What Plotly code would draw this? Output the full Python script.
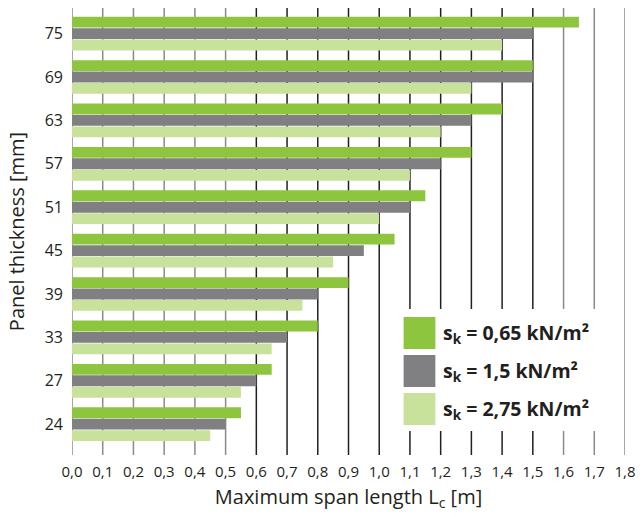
import plotly.graph_objects as go

# Panel thickness categories (bottom to top)
thickness = ["24", "27", "33", "39", "45", "51", "57", "63", "69", "75"]

# Maximum span length [m] per snow load
span_065 = [0.55, 0.65, 0.80, 0.90, 1.05, 1.15, 1.30, 1.40, 1.50, 1.65]
span_150 = [0.50, 0.60, 0.70, 0.80, 0.95, 1.10, 1.20, 1.30, 1.50, 1.50]
span_275 = [0.45, 0.55, 0.65, 0.75, 0.85, 1.00, 1.10, 1.20, 1.30, 1.40]

series_labels = ["s<sub>k</sub> = 0,65 kN/m²", "s<sub>k</sub> = 1,5 kN/m²", "s<sub>k</sub> = 2,75 kN/m²"]
series_colors = ["#8dc53e", "#808083", "#c8e29c"]
x_ticks = [i / 10 for i in range(19)]

FONT = "Open Sans"
TEXT = "#231f20"

fig = go.Figure()
# traces added bottom-first so the lightest load sits on top of each group
for vals, col, name in reversed(list(zip([span_065, span_150, span_275], series_colors, series_labels))):
    fig.add_trace(go.Bar(
        y=thickness, x=vals, orientation="h", name=name,
        marker=dict(color=col, line=dict(width=0)),
        showlegend=False,
    ))

# Plot-area geometry in pixels (used to place the custom legend)
W, H = 644, 517
L, R, T, B = 72, 15, 8, 62
pw, ph = W - L - R, H - T - B

def px_x(px):
    return (px - L) / pw

def px_y(py):
    return (H - B - py) / ph

shapes = []
# vertical grid lines: grey at the outer ranges, dark in the middle
for v in x_ticks:
    col = TEXT if 0.55 < v < 1.55 else "#8a8a8a"
    shapes.append(dict(type="line", xref="x", yref="paper", x0=v, x1=v, y0=0, y1=1,
                       layer="below", line=dict(color=col, width=1.5)))

# white panel behind the legend
shapes.append(dict(type="rect", xref="paper", yref="paper", layer="above",
                   x0=px_x(394), x1=px_x(616), y0=px_y(431), y1=px_y(309),
                   fillcolor="white", line=dict(width=0)))
annotations = []
for i, (col, name) in enumerate(zip(series_colors, series_labels)):
    top = 317 + i * 38
    shapes.append(dict(type="rect", xref="paper", yref="paper", layer="above",
                       x0=px_x(406), x1=px_x(438), y0=px_y(top + 32), y1=px_y(top),
                       fillcolor=col, line=dict(width=0)))
    annotations.append(dict(xref="paper", yref="paper", x=px_x(444), y=px_y(top + 16),
                            xanchor="left", yanchor="middle", showarrow=False,
                            text="<b>" + name + "</b>",
                            font=dict(family=FONT, size=19.5, color=TEXT)))

fig.update_layout(
    width=W, height=H,
    margin=dict(l=L, r=R, t=T, b=B),
    paper_bgcolor="white", plot_bgcolor="white",
    barmode="group", bargap=0.21, bargroupgap=0.05,
    separators=", ",
    font=dict(family=FONT, color=TEXT),
    shapes=shapes, annotations=annotations,
    xaxis=dict(
        range=[0, 1.8], tickvals=x_ticks, tickformat=".1f",
        showgrid=False, zeroline=False, showline=False, ticks="",
        ticklabelstandoff=6,
        tickfont=dict(family=FONT, size=15, color=TEXT),
        title=dict(text="Maximum span length L<sub>c</sub> [m]",
                   font=dict(family=FONT, size=20, color=TEXT), standoff=9),
    ),
    yaxis=dict(
        type="category", categoryorder="array", categoryarray=thickness,
        range=[-0.71, 9.59], showgrid=False, showline=False, ticks="",
        ticklabelstandoff=8,
        tickfont=dict(family=FONT, size=16, color=TEXT),
        title=dict(text="Panel thickness [mm]",
                   font=dict(family=FONT, size=20, color=TEXT), standoff=14),
    ),
)

fig.write_html("out.html")
